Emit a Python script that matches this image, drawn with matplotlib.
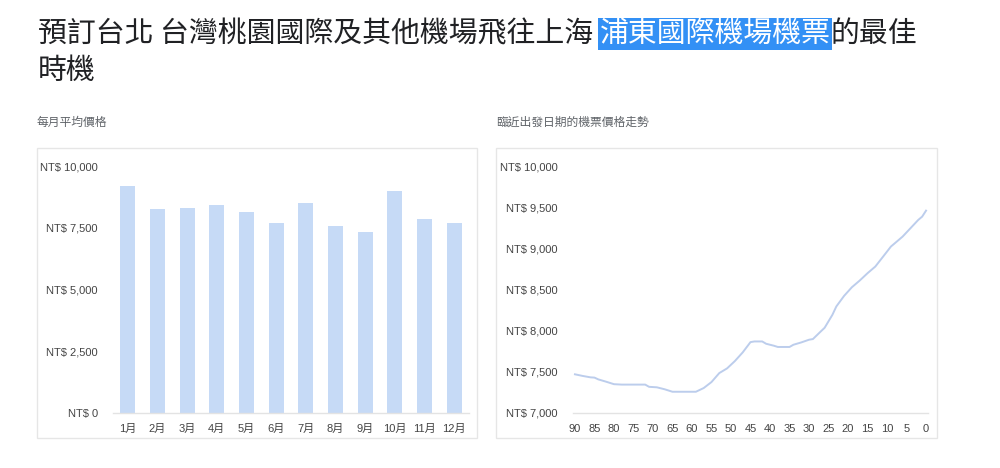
import matplotlib
matplotlib.use("Agg")
import matplotlib.pyplot as plt
from matplotlib.patches import Rectangle

# ---- data ----
months = ["1月", "2月", "3月", "4月", "5月", "6月", "7月", "8月", "9月", "10月", "11月", "12月"]
monthly_price = [9200, 8250, 8290, 8420, 8150, 7710, 8500, 7570, 7320, 9000, 7860, 7710]

days_before = [90, 88, 86, 85, 84, 82, 80, 78, 75, 72, 71, 69, 67, 65, 62, 60, 59,
               57, 55, 53, 51, 49, 47, 45, 44, 42, 41, 39, 38, 35, 34, 32, 30, 29,
               27, 26, 24, 23, 21, 19, 17, 15, 13, 11, 9, 8, 6, 4, 2, 1, 0]
trend_price = [7470, 7450, 7433, 7430, 7408, 7380, 7350, 7345, 7345, 7345, 7318, 7312, 7288, 7258, 7258, 7258, 7258,
               7303, 7376, 7485, 7542, 7631, 7736, 7861, 7869, 7869, 7841, 7817, 7802, 7802, 7829, 7857, 7890, 7898,
               7990, 8035, 8193, 8294, 8423, 8528, 8609, 8698, 8779, 8900, 9022, 9062, 9143, 9244, 9345, 9385, 9458]

left_yticks = [0, 2500, 5000, 7500, 10000]
right_yticks = [7000, 7500, 8000, 8500, 9000, 9500, 10000]
right_xticks = [90, 85, 80, 75, 70, 65, 60, 55, 50, 45, 40, 35, 30, 25, 20, 15, 10, 5, 0]

W, H = 1000, 468
CJK = ["Noto Sans CJK TC", "DejaVu Sans"]
LAT = ["Liberation Sans", "Noto Sans CJK TC", "DejaVu Sans"]
TXT = "#202124"
GRAY = "#5f6368"
TICK = "#444444"

fig = plt.figure(figsize=(W / 100, H / 100), dpi=100)

def fx(px):
    return px / W

def fy(py):
    return 1 - py / H

# ---- title ----
renderer = fig.canvas.get_renderer()
part1 = "預訂台北 台灣桃園國際及其他機場飛往上海 "
part2 = "浦東國際機場機票"
part3 = "的最佳"
TS = 20.8
y1 = fy(34)
t1 = fig.text(fx(38), y1, part1, family=CJK, fontsize=TS, weight="light", color=TXT, va="center", ha="left")
bb = t1.get_window_extent(renderer)
t2 = fig.text(bb.x1 / W, y1, part2, family=CJK, fontsize=TS, weight="light", color="white", va="center", ha="left",
              bbox=dict(boxstyle="square,pad=0.05", facecolor="#3390f5", edgecolor="none"))
bb2 = t2.get_window_extent(renderer)
fig.text(bb2.x1 / W, y1, part3, family=CJK, fontsize=TS, weight="light", color=TXT, va="center", ha="left")
fig.text(fx(38), fy(71), "時機", family=CJK, fontsize=TS, weight="light", color=TXT, va="center", ha="left")

# ---- subtitles ----
fig.text(fx(37), fy(122), "每月平均價格", family=CJK, fontsize=8.5, color=GRAY, va="center", ha="left")
fig.text(fx(496), fy(122), "臨近出發日期的機票價格走勢", family=CJK, fontsize=8.5, color=GRAY, va="center", ha="left")

# ---- panel borders ----
for x0, x1 in [(37, 477), (496, 937)]:
    fig.add_artist(Rectangle((fx(x0), fy(438)), fx(x1 - x0), (438 - 148) / H,
                             transform=fig.transFigure, facecolor="none",
                             edgecolor="#e6e6e6", linewidth=1))

def style_axes(ax):
    for s in ["top", "right", "left"]:
        ax.spines[s].set_visible(False)
    ax.spines["bottom"].set_color("#e3e3e3")
    ax.spines["bottom"].set_linewidth(1)
    ax.tick_params(axis="both", length=0, colors=TICK, labelsize=8)
    ax.tick_params(axis="y", pad=11)
    ax.tick_params(axis="x", pad=8)
    for lab in ax.get_xticklabels() + ax.get_yticklabels():
        lab.set_family(LAT)

bottom = fy(413)
height = (413 - 166) / H

# ---- left bar chart ----
ax1 = fig.add_axes([fx(113), bottom, fx(356), height])
xs = list(range(len(months)))
ax1.bar(xs, monthly_price, width=0.5, color="#c6daf6", zorder=2)
ax1.set_xlim(-0.5, len(months) - 0.5)
ax1.set_ylim(0, 10000)
ax1.set_yticks(left_yticks)
ax1.set_yticklabels([f"NT$ {v:,}" for v in left_yticks])
ax1.set_xticks(xs)
ax1.set_xticklabels(months)
style_axes(ax1)

# ---- right line chart ----
ax2 = fig.add_axes([fx(573), bottom, fx(355), height])
ax2.plot(days_before, trend_price, color="#bccdec", linewidth=1.4, zorder=2)
ax2.set_xlim(90.5, -0.5)
ax2.set_ylim(7000, 10000)
ax2.set_yticks(right_yticks)
ax2.set_yticklabels([f"NT$ {v:,}" for v in right_yticks])
ax2.set_xticks(right_xticks)
ax2.set_xticklabels([str(v) for v in right_xticks])
style_axes(ax2)

fig.savefig("out.png", dpi=100)
